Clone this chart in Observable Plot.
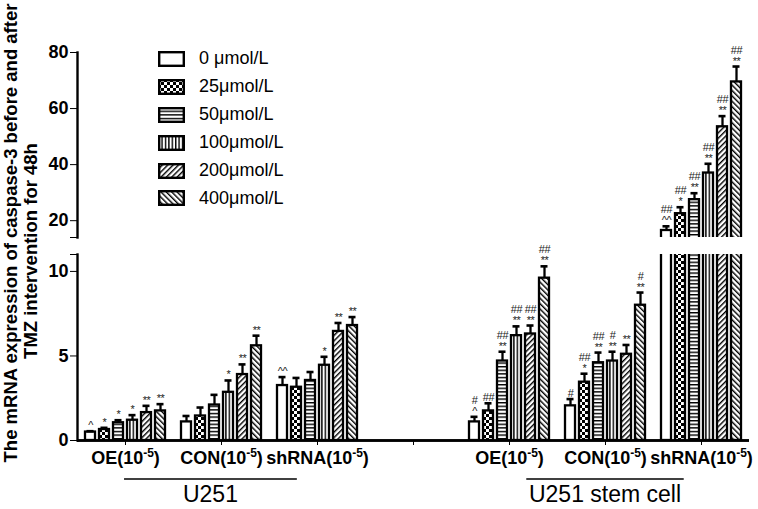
<!DOCTYPE html>
<html><head><meta charset="utf-8">
<script src="https://cdn.jsdelivr.net/npm/d3@7"></script>
<script src="https://cdn.jsdelivr.net/npm/@observablehq/plot@0.6"></script>
<style>
body{margin:0;background:#fff;}
#wrap{position:relative;width:758px;height:509px;overflow:hidden;font-family:"Liberation Sans",Arial,sans-serif;}
#upper,#lower{position:absolute;left:0;}
#upper{top:0;}
#lower{top:240px;}
#legend{position:absolute;left:158px;top:45px;}
.row{display:flex;align-items:center;height:27.9px;font-size:18px;color:#000;}
.row svg{margin-right:14px;display:block;}
#ylab{position:absolute;left:0;top:0;pointer-events:none;}
g[aria-label="text"] text{letter-spacing:-0.4px;}
</style></head><body>
<svg width="0" height="0" style="position:absolute">
<defs>
<pattern id="p25" patternUnits="userSpaceOnUse" width="6" height="6"><rect width="6" height="6" fill="#fff"/><rect width="3" height="3" fill="#000"/><rect x="3" y="3" width="3" height="3" fill="#000"/></pattern>
<pattern id="p50" patternUnits="userSpaceOnUse" width="4" height="3.6"><rect width="4" height="3.6" fill="#fff"/><rect width="4" height="1.4" fill="#000"/></pattern>
<pattern id="p100" patternUnits="userSpaceOnUse" width="3.4" height="4"><rect width="3.4" height="4" fill="#fff"/><rect width="1.4" height="4" fill="#000"/></pattern>
<pattern id="p200" patternUnits="userSpaceOnUse" width="3.8" height="4" patternTransform="rotate(45)"><rect width="3.8" height="4" fill="#fff"/><rect width="1.4" height="4" fill="#000"/></pattern>
<pattern id="p400" patternUnits="userSpaceOnUse" width="3.8" height="4" patternTransform="rotate(-45)"><rect width="3.8" height="4" fill="#fff"/><rect width="1.4" height="4" fill="#000"/></pattern>
</defs></svg>
<div id="wrap">
  <div id="upper"></div>
  <div id="lower"></div>
  <div id="legend"></div>
  <svg id="ylab" width="758" height="509"></svg>
</div>
<script>
// ---------------- data ----------------
const categories = ["U251 OE", "U251 CON", "U251 shRNA", "gap", "stem OE", "stem CON", "stem shRNA"];
const tickLabels = ["OE(10⁻⁵)", "CON(10⁻⁵)", "shRNA(10⁻⁵)", "", "OE(10⁻⁵)", "CON(10⁻⁵)", "shRNA(10⁻⁵)"];
const doses = ["0 μmol/L", "25μmol/L", "50μmol/L", "100μmol/L", "200μmol/L", "400μmol/L"];

const u251OE     = [0.5, 0.65, 1.05, 1.2, 1.65, 1.75];
const u251OEErr  = [0.05, 0.1, 0.15, 0.3, 0.4, 0.4];
const u251OESig  = ["^", "*", "*", "*", "**", "**"];

const u251CON    = [1.1, 1.45, 2.1, 2.85, 3.9, 5.6];
const u251CONErr = [0.35, 0.5, 0.6, 0.7, 0.6, 0.6];
const u251CONSig = ["", "", "", "*", "**", "**"];

const u251SH     = [3.25, 3.15, 3.55, 4.45, 6.45, 6.8];
const u251SHErr  = [0.5, 0.55, 0.5, 0.5, 0.5, 0.5];
const u251SHSig  = ["^^", "", "", "*", "**", "**"];

const stemOE     = [1.1, 1.75, 4.7, 6.2, 6.3, 9.6];
const stemOEErr  = [0.3, 0.45, 0.55, 0.55, 0.5, 0.7];
const stemOESig  = ["#\n^", "##", "##\n**", "##\n**", "##\n**", "##\n**"];

const stemCON    = [2.05, 3.45, 4.6, 4.7, 5.1, 8.0];
const stemCONErr = [0.4, 0.5, 0.6, 0.55, 0.55, 0.75];
const stemCONSig = ["#", "##\n*", "##\n**", "#\n**", "**", "#\n**"];

const stemSH     = [16.5, 22.5, 27.5, 37, 53.5, 69.5];
const stemSHErr  = [1.5, 2.3, 2.3, 3.3, 3.8, 5.5];
const stemSHSig  = ["##\n^^", "##\n*", "##\n**", "##\n**", "##\n**", "##\n**"];

const lowerTicks = [0, 5, 10, 11];
const upperTicks = [14, 20, 40, 60, 80];
const lowerDomain = [0, 11];
const upperDomain = [14, 80];
const yTitle1 = "The mRNA expression of caspase-3 before and after";
const yTitle2 = "TMZ intervention for 48h";
const groupLabels = ["U251", "U251 stem cell"];
const groupCenters = ["U251 CON", "stem CON"];

// ---------------- build table ----------------
const series = [
  ["U251 OE", u251OE, u251OEErr, u251OESig],
  ["U251 CON", u251CON, u251CONErr, u251CONSig],
  ["U251 shRNA", u251SH, u251SHErr, u251SHSig],
  ["stem OE", stemOE, stemOEErr, stemOESig],
  ["stem CON", stemCON, stemCONErr, stemCONSig],
  ["stem shRNA", stemSH, stemSHErr, stemSHSig]
];
const rows = [];
for (const [cat, vals, errs, sigs] of series) {
  vals.forEach((v, i) => rows.push({cat, dose: doses[i], value: v, err: errs[i], top: v + errs[i], sig: sigs[i]}));
}

// ---------------- styles ----------------
const FONT = "'Liberation Sans', Arial, sans-serif";
const fills = ["#fff", "url(#p25)", "url(#p50)", "url(#p100)", "url(#p200)", "url(#p400)"];
const SW = 2.3;

function panel(opts) {
  const {height, marginTop, marginBottom, domain, ticks, blank, data, showFx} = opts;
  const visible = data.filter(d => d.top <= domain[1]);
  return Plot.plot({
    width: 758, height, marginLeft: 77, marginRight: 9, marginTop, marginBottom,
    style: {fontFamily: FONT, fontSize: "18px", fontWeight: "bold", color: "#000", background: "transparent", overflow: "visible"},
    fx: showFx
      ? {domain: categories, padding: 0, label: null, tickSize: 5, tickPadding: 6,
         tickFormat: c => tickLabels[categories.indexOf(c)]}
      : {domain: categories, padding: 0, axis: null},
    x: {domain: doses, paddingInner: 0.3, paddingOuter: 0.45, axis: null},
    y: {domain, ticks, tickFormat: d => d === blank ? "" : d, tickSize: 7, tickPadding: 2, label: null},
    marks: [
      // one baseline segment per category (keeps every facet non-empty)
      Plot.ruleY(categories, {fx: c => c, y: () => domain[0], stroke: "#000",
        strokeWidth: 2.4, strokeOpacity: showFx ? 1 : 0}),
      ...doses.map((dose, i) => Plot.barY(data.filter(r => r.dose === dose), {
        fx: "cat", x: "dose", y: "value", fill: fills[i], stroke: "#000", strokeWidth: SW, clip: true
      })),
      Plot.ruleX(visible, {fx: "cat", x: "dose", y1: "value", y2: "top", stroke: "#000", strokeWidth: SW}),
      Plot.tickY(visible, {fx: "cat", x: "dose", y: "top", stroke: "#000", strokeWidth: 2.6, insetLeft: 1.5, insetRight: 1.5}),
      Plot.text(visible, {fx: "cat", x: "dose", y: "top", text: "sig", dy: -2, lineAnchor: "bottom",
        fontSize: 11, fontWeight: "normal", lineHeight: 1.0, fill: "#222"}),
      showFx ? Plot.ruleY([0], {stroke: "#000", strokeWidth: 2.4}) : null,
      Plot.frame({anchor: "left", facetAnchor: "left", stroke: "#000", strokeWidth: 2.4})
    ]
  });
}

const upper = panel({height: 240, marginTop: 52, marginBottom: 3, domain: upperDomain, ticks: upperTicks,
  blank: 14, data: rows.filter(r => r.value > upperDomain[0]), showFx: false});
const lower = panel({height: 269, marginTop: 14, marginBottom: 69, domain: lowerDomain, ticks: lowerTicks,
  blank: 11, data: rows, showFx: true});
document.getElementById("upper").appendChild(upper);
document.getElementById("lower").appendChild(lower);

// superscripts in category labels
lower.querySelectorAll("text").forEach(t => {
  const s = t.textContent;
  if (t.children.length === 0 && s.includes("⁻⁵")) {
    const [a, b] = s.split("⁻⁵");
    t.textContent = "";
    const NS = "http://www.w3.org/2000/svg";
    const t1 = document.createElementNS(NS, "tspan"); t1.textContent = a;
    const t2 = document.createElementNS(NS, "tspan"); t2.textContent = "-5";
    t2.setAttribute("font-size", "12px"); t2.setAttribute("dy", "-7");
    const t3 = document.createElementNS(NS, "tspan"); t3.textContent = b; t3.setAttribute("dy", "7");
    t.append(t1, t2, t3);
  }
});

// group labels with lines, placed from the fx scale
const fxs = lower.scale("fx");
const bw = fxs.bandwidth;
const shifts = [-0.11, 0];
const halves = [0.9, 0.82];
const gsel = d3.select(lower).append("g").attr("font-family", FONT).attr("font-weight", "normal");
groupLabels.forEach((lab, i) => {
  const cx = fxs.apply(groupCenters[i]) + bw / 2 + shifts[i] * bw;
  gsel.append("line").attr("x1", cx - halves[i] * bw).attr("x2", cx + halves[i] * bw)
    .attr("y1", 239).attr("y2", 239).attr("stroke", "#000").attr("stroke-width", 1.3);
  gsel.append("text").attr("x", cx).attr("y", 262).attr("text-anchor", "middle")
    .attr("font-size", "23px").attr("fill", "#000").text(lab);
});

// legend
const leg = d3.select("#legend");
doses.forEach((d, i) => {
  const row = leg.append("div").attr("class", "row");
  const sv = row.append("svg").attr("width", 27).attr("height", 16);
  sv.append("rect").attr("x", 1.2).attr("y", 1.2).attr("width", 24.6).attr("height", 13.6)
    .attr("fill", fills[i]).attr("stroke", "#000").attr("stroke-width", 2.4);
  row.append("span").text(d);
});

// y title
const yl = d3.select("#ylab").append("g").attr("font-family", FONT).attr("font-weight", "bold")
  .attr("font-size", "18.5px").attr("fill", "#000").attr("text-anchor", "middle");
yl.append("text").attr("transform", "translate(17,233) rotate(-90)").text(yTitle1);
yl.append("text").attr("transform", "translate(37,251) rotate(-90)").text(yTitle2);
</script>
</body></html>
